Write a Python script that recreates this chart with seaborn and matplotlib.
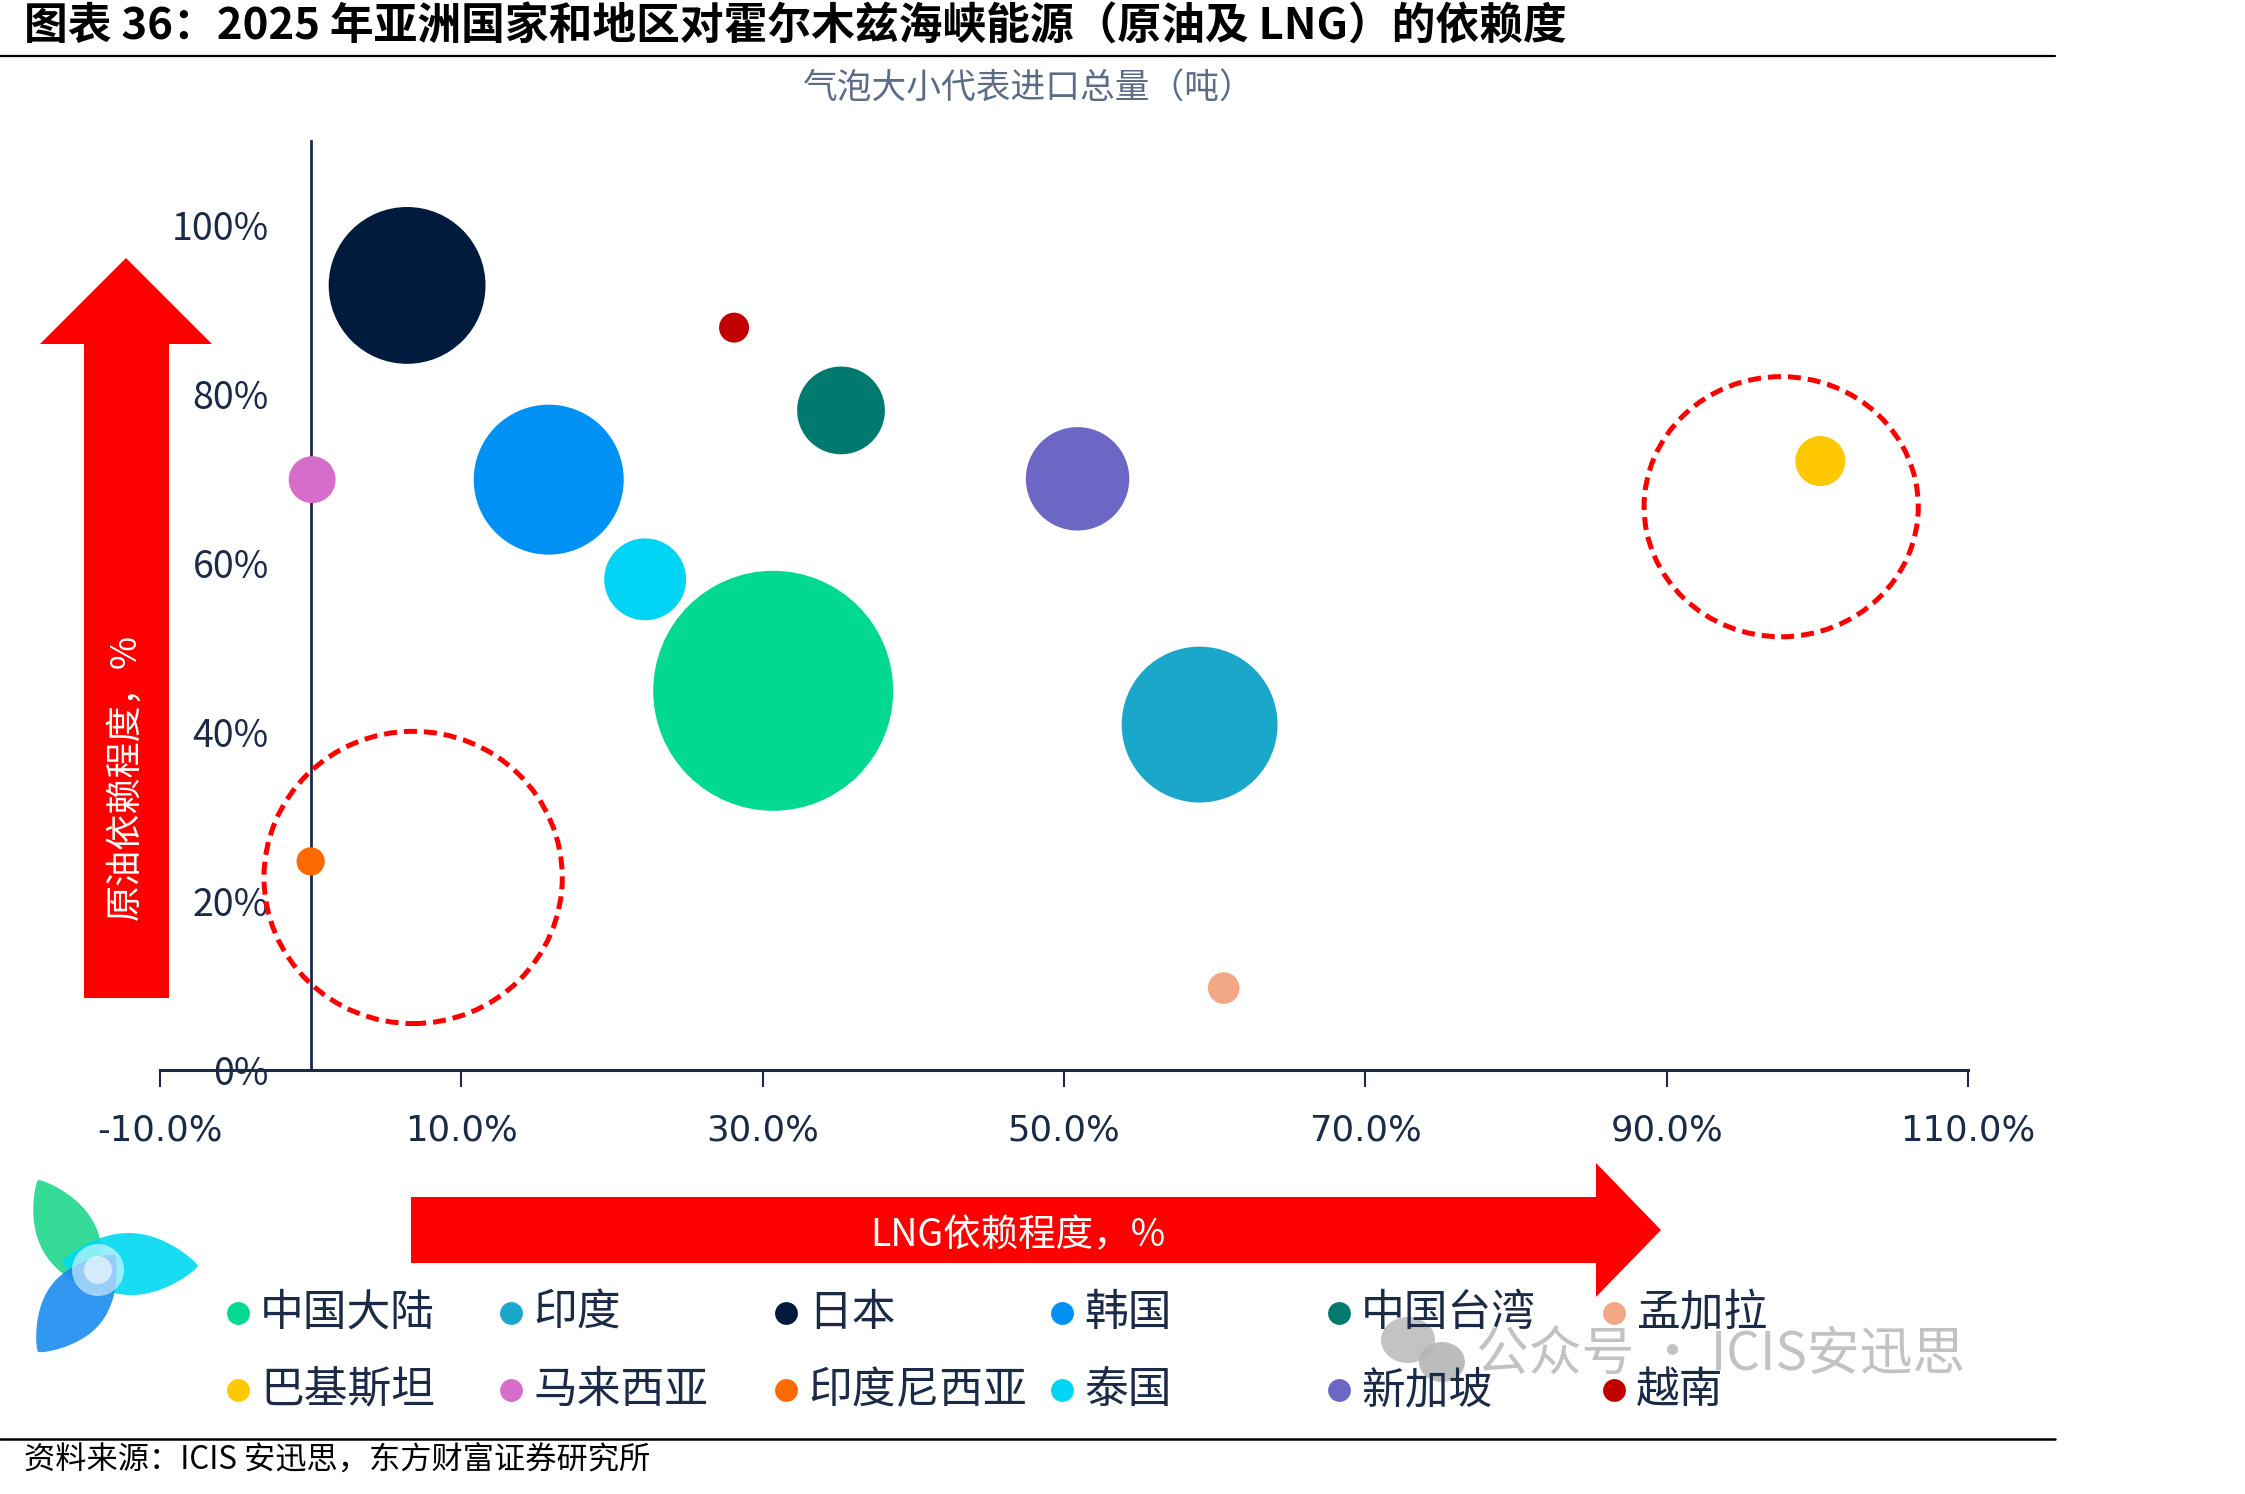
import numpy as np
import pandas as pd
import matplotlib
matplotlib.use("Agg")
import matplotlib.pyplot as plt
import seaborn as sns
from matplotlib.patches import Polygon, Ellipse, Circle

# ---------------- DATA ----------------
countries = ['中国大陆', '印度', '日本', '韩国', '中国台湾', '孟加拉',
             '巴基斯坦', '马来西亚', '印度尼西亚', '泰国', '新加坡', '越南']
lng_dep = [30.7, 59.0, 6.4, 15.8, 35.2, 60.6, 100.2, 0.1, 0.0, 22.2, 50.9, 28.1]
oil_dep = [44.9, 40.9, 92.9, 69.9, 78.1, 9.7, 72.1, 69.9, 24.7, 58.1, 70.0, 87.9]
# import volume (relative units)
import_vol = [576, 243, 246, 225, 77, 10, 25, 22, 8, 67, 107, 9]
colors = ['#00D98F', '#1AA7C9', '#001B3D', '#0091F5', '#00796F', '#F2A885',
          '#FFC800', '#D66DCA', '#FF6A00', '#00D4F5', '#6C67C4', '#C00000']

x_ticks = [-10, 10, 30, 50, 70, 90, 110]
y_ticks = [0, 20, 40, 60, 80, 100]

df = pd.DataFrame({'country': countries, 'lng': lng_dep, 'oil': oil_dep, 'vol': import_vol})
palette = dict(zip(countries, colors))

navy = '#1B2A47'

# ---------------- FIGURE ----------------
sns.set_theme(style='white')
plt.rcParams['font.family'] = ['Noto Sans CJK SC', 'DejaVu Sans']

W, H = 2245, 1494
fig = plt.figure(figsize=(W / 100, H / 100), dpi=100)
fig.patch.set_facecolor('white')

# overlay in pixel coordinates for title, arrows, legend, footer
ov = fig.add_axes([0, 0, 1, 1])
ov.set_xlim(0, W)
ov.set_ylim(H, 0)
ov.axis('off')
ov.set_zorder(0)

ov.text(24, 27, '图表 36：2025 年亚洲国家和地区对霍尔木兹海峡能源（原油及 LNG）的依赖度',
        fontsize=31.5, fontweight='bold', color='black', ha='left', va='center')
ov.plot([0, 2055], [56, 56], color='black', lw=1.6)
ov.text(1028, 89, '气泡大小代表进口总量（吨）', fontsize=25, color='#5C6C86',
        ha='center', va='center')

# vertical red arrow (crude oil)
ov.add_patch(Polygon([(84, 998), (169, 998), (169, 344), (212, 344), (126, 258),
                      (40, 344), (84, 344)], closed=True, color='#FF0000', lw=0))
ov.text(126, 777, '原油依赖程度，%', rotation=90, color='white', fontsize=26,
        ha='center', va='center')

# horizontal red arrow (LNG)
ov.add_patch(Polygon([(411, 1197), (1596, 1197), (1596, 1163), (1661, 1230),
                      (1596, 1297), (1596, 1263), (411, 1263)], closed=True,
                     color='#FF0000', lw=0))
ov.text(1018, 1236, 'LNG依赖程度，%', color='white', fontsize=27, ha='center', va='center')


# logo: three lens-shaped petals
def lens(a, b, w, n=60):
    a, b = np.array(a, float), np.array(b, float)
    d = b - a
    nrm = np.array([-d[1], d[0]]) / np.hypot(*d)
    t = np.linspace(0, 1, n)
    bulge = (w / 2) * np.sin(np.pi * t) ** 0.8
    top = a + np.outer(t, d) + np.outer(bulge, nrm)
    bot = a + np.outer(t, d) - np.outer(bulge, nrm)
    return np.vstack([top, bot[::-1]])


ov.add_patch(Polygon(lens((38, 1180), (98, 1292), 58), color='#1FD68C', alpha=0.9, lw=0))
ov.add_patch(Polygon(lens((62, 1262), (198, 1266), 62), color='#00D9F2', alpha=0.9, lw=0))
ov.add_patch(Polygon(lens((115, 1255), (38, 1352), 62), color='#1A8CF0', alpha=0.9, lw=0))
ov.add_patch(Circle((98, 1270), 26, color='white', alpha=0.55, lw=0))
ov.add_patch(Circle((98, 1270), 14, color='white', alpha=0.6, lw=0))

# legend placed in fixed slots, two rows of six
leg_order = ['中国大陆', '印度', '日本', '韩国', '中国台湾', '孟加拉',
             '巴基斯坦', '马来西亚', '印度尼西亚', '泰国', '新加坡', '越南']
leg_x = [238, 511, 786, 1062, 1339, 1614]
leg_y = [1313, 1390]
for i, name in enumerate(leg_order):
    x = leg_x[i % 6]
    y = leg_y[i // 6]
    ov.scatter([x], [y], s=270, color=palette[name], lw=0, zorder=3)
    ov.text(x + 22, y, name, fontsize=31.5, color=navy, ha='left', va='center', zorder=3)

# watermark
ov.add_patch(Ellipse((1408, 1340), 54, 46, color='#B5B5B5', alpha=0.8, lw=0))
ov.add_patch(Ellipse((1442, 1362), 46, 40, color='#B5B5B5', alpha=0.9, lw=0))
ov.text(1476, 1354, '公众号 · ICIS安迅思', fontsize=38, color='#9A9A9A', alpha=0.6,
        ha='left', va='center')

# footer
ov.plot([0, 2055], [1439, 1439], color='black', lw=1.8)
ov.text(24, 1461, '资料来源：ICIS 安迅思，东方财富证券研究所', fontsize=22.5,
        color='black', ha='left', va='center')

# ---------------- BUBBLE CHART ----------------
ax = fig.add_axes([160 / W, 1 - 1070 / H, 1808 / W, (1070 - 141) / H])
ax.set_zorder(1)
ax.patch.set_visible(False)

vmax = max(import_vol)
smax = (2 * 120 / (100 / 72)) ** 2
sns.scatterplot(data=df, x='lng', y='oil', hue='country', palette=palette,
                size='vol', sizes=(0, smax), size_norm=(0, vmax),
                linewidth=0, alpha=1, legend=False, ax=ax, zorder=3)

ax.set_xlim(-10, 110)
ax.set_ylim(0, 110)
ax.set_xlabel('')
ax.set_ylabel('')

ax.set_xticks(x_ticks)
ax.set_xticklabels([f'{v:.1f}%' for v in x_ticks])
ax.set_yticks(y_ticks)
ax.set_yticklabels([f'{v}%' for v in y_ticks])
for lbl in ax.get_xticklabels() + ax.get_yticklabels():
    lbl.set_fontfamily('DejaVu Sans')

ax.tick_params(axis='x', direction='out', length=12, width=1.5, color=navy,
               pad=19, labelsize=25.5, labelcolor=navy, bottom=True)
ax.tick_params(axis='y', length=0, pad=30, labelsize=27, labelcolor=navy)

for s in ['top', 'right']:
    ax.spines[s].set_visible(False)
ax.spines['left'].set_position(('data', 0))
ax.spines['left'].set_color(navy)
ax.spines['left'].set_linewidth(2)
ax.spines['bottom'].set_color(navy)
ax.spines['bottom'].set_linewidth(2.2)

# dashed highlight circles
dash = (0, (2.6, 1.4))
ax.add_patch(Ellipse((6.8, 22.8), 2 * 9.9, 2 * 17.3, fill=False, edgecolor='#FF0000',
                     lw=3.6, linestyle=dash, clip_on=False, zorder=4))
ax.add_patch(Ellipse((97.6, 66.7), 2 * 9.1, 2 * 15.4, fill=False, edgecolor='#FF0000',
                     lw=3.6, linestyle=dash, clip_on=False, zorder=4))

fig.savefig('out.png', dpi=100, facecolor='white')
